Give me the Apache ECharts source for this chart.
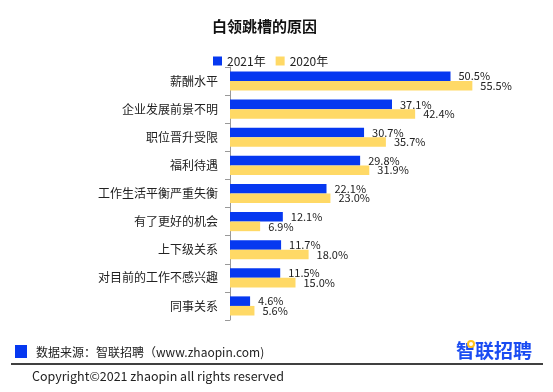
<!DOCTYPE html>
<html><head><meta charset="utf-8">
<script src="https://cdn.jsdelivr.net/npm/echarts@6/dist/echarts.min.js"></script>
<style>html,body{margin:0;padding:0;background:#fff}#c{width:553px;height:392px}</style>
</head><body><div id="c"></div>
<script>
const categories = ['薪酬水平','企业发展前景不明','职位晋升受限','福利待遇','工作生活平衡严重失衡','有了更好的机会','上下级关系','对目前的工作不感兴趣','同事关系'];
const values2021 = [50.5,37.1,30.7,29.8,22.1,12.1,11.7,11.5,4.6];
const values2020 = [55.5,42.4,35.7,31.9,23.0,6.9,18.0,15.0,5.6];
const seriesNames = ['2021年','2020年'];
const titleText = '白领跳槽的原因';
const sourceText = '数据来源：智联招聘（www.zhaopin.com)';
const copyrightText = 'Copyright©2021 zhaopin all rights reserved';
const logoText = '智联招聘';

const BLUE = '#0638f0', YELLOW = '#ffd966';
const FONT = '"Noto Sans CJK SC", "Noto Sans", sans-serif';
const chart = echarts.init(document.getElementById('c'));
const lbl = {show:true, position:'right', distance:8, fontSize:11, color:'#222', fontFamily:FONT,
  formatter: p => p.value.toFixed(1) + '%'};
chart.setOption({
  animation:false,
  textStyle:{fontFamily:FONT},
  title:{text:titleText, left:207, top:14, textStyle:{fontSize:15, fontWeight:'bold', color:'#111', fontFamily:FONT}},
  legend:{data:seriesNames, left:208, top:50, itemWidth:9, itemHeight:9, itemGap:10, icon:'rect',
    textStyle:{fontSize:12, color:'#222', fontFamily:FONT}},
  grid:{left:230, top:67, width:262, height:253},
  xAxis:{type:'value', min:0, max:60, show:false},
  yAxis:{type:'category', data:categories, inverse:true,
    axisLine:{show:true, lineStyle:{color:'#999'}},
    axisTick:{show:true, length:5, lineStyle:{color:'#999'}},
    axisLabel:{fontSize:12, color:'#222', margin:12, fontFamily:FONT}},
  series:[
    {name:seriesNames[0], type:'bar', data:values2021, itemStyle:{color:BLUE}, barCategoryGap:'32%', barGap:'0%', label:lbl},
    {name:seriesNames[1], type:'bar', data:values2020, itemStyle:{color:YELLOW}, barCategoryGap:'32%', barGap:'0%', label:lbl}
  ],
  graphic:[
    {type:'rect', shape:{x:15, y:345, width:12, height:13}, style:{fill:BLUE}},
    {type:'text', x:36, y:352, style:{text:sourceText, fontSize:12, fill:'#222', verticalAlign:'middle', fontFamily:FONT}},
    {type:'line', shape:{x1:11, y1:364, x2:543, y2:364}, style:{stroke:'#000', lineWidth:1.5}},
    {type:'text', x:32, y:376, style:{text:copyrightText, fontSize:12.5, fill:'#222', verticalAlign:'middle', fontFamily:FONT}},
    {type:'text', x:456, y:351, style:{text:logoText, fontSize:19, fontWeight:'bold', fill:'#1a4cf2', verticalAlign:'middle', fontFamily:FONT}},
    {type:'circle', shape:{cx:471, cy:344, r:3}, style:{fill:'#fff', stroke:'#ffc21a', lineWidth:2}}
  ]
});
</script></body></html>
